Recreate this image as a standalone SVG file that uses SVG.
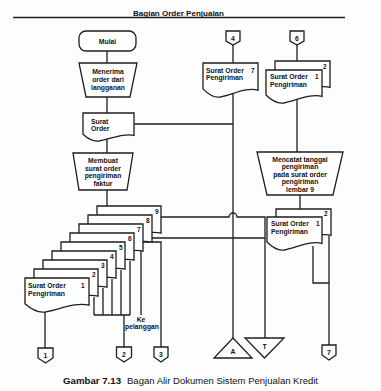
<svg xmlns="http://www.w3.org/2000/svg" xmlns:xlink="http://www.w3.org/1999/xlink" width="381" height="391" viewBox="0 0 381 391">
  <style>
    .ln { fill: none; stroke: #1e1e1e; stroke-width: 1.3; }
    .shp { fill: #fff; stroke: #1e1e1e; stroke-width: 1.3; }
    .t { font-family: "Liberation Sans", Arial, sans-serif; font-weight: bold; font-size: 6.8px; fill: #111; }
    .tc { text-anchor: middle; }
    .n { font-family: "Liberation Sans", Arial, sans-serif; font-weight: bold; font-size: 6.5px; fill: #111; }
    .cap { font-family: "Liberation Sans", Arial, sans-serif; fill: #111; }
  </style>
  <defs>
    <!-- unit document shape (100 x 100) with wavy bottom -->
    <path id="doc" d="M0,0 H100 V80 C80,70 55,92 32,100 C18,104 6,86 0,76 Z" fill="#fff" stroke="#1e1e1e" stroke-width="1.3" vector-effect="non-scaling-stroke"/>
  </defs>

  <rect width="381" height="391" fill="#fdfdfd"/>

  <!-- header -->
  <g id="header">
    <text x="178.5" y="15.5" class="t tc" font-size="8" textLength="91" lengthAdjust="spacingAndGlyphs">Bagian Order Penjualan</text>
    <line x1="13" y1="17.5" x2="345" y2="17.5" stroke="#1e1e1e" stroke-width="1.4"/>
  </g>

  <!-- connectors -->
  <g id="connectors" class="ln">
    <path d="M107,51 V63"/>
    <path d="M107,97 V113"/>
    <path d="M107,139 V153"/>
    <path d="M134,124 H233"/>
    <path d="M107,190 V206"/>
    <path d="M233,45 V63"/>
    <path d="M233,94 V338"/>
    <path d="M297,45 V61"/>
    <path d="M297,100 V152"/>
    <path d="M300,195 V209"/>
    <path d="M313,246 V283 H329"/>
    <path d="M329,236 V345"/>
    <!-- copies leaving the stack -->
    <path d="M45,312 V348"/>
    <path d="M94,297 V315"/>
    <path d="M103,288 V315"/>
    <path d="M112,279 V315"/>
    <path d="M121,270 V315"/>
    <path d="M130,261 V315"/>
    <path d="M94,315 H130"/>
    <path d="M124,315 V347"/>
    <path d="M141,251 V315"/>
    <path d="M143,242 H161 V347"/>
    <path d="M152,238 H265"/>
    <path d="M161,217 H229 A4,4 0 0 1 237,217 H265 V338"/>
  </g>

  <!-- start -->
  <g id="mulai">
    <rect x="79" y="31" width="57" height="20" rx="7" class="shp"/>
    <text x="107.5" y="44" class="t tc" font-size="7.5">Mulai</text>
  </g>

  <g id="menerima-order">
    <path d="M79,63 H137 L130,97 H86 Z" class="shp"/>
    <text class="t tc"><tspan x="108" y="74">Menerima</tspan><tspan x="108" y="82">order dari</tspan><tspan x="108" y="90">langganan</tspan></text>
  </g>

  <g id="surat-order">
    <use xlink:href="#doc" transform="translate(83,113) scale(0.51,0.28)"/>
    <text class="t" font-size="6.3"><tspan x="91" y="123.5">Surat</tspan><tspan x="91" y="131">Order</tspan></text>
  </g>

  <g id="membuat-sop">
    <path d="M73,153 H133 L127,190 H79 Z" class="shp"/>
    <text class="t tc"><tspan x="103" y="163">Membuat</tspan><tspan x="103" y="170.5">surat order</tspan><tspan x="103" y="178">pengiriman</tspan><tspan x="103" y="185.5">faktur</tspan></text>
  </g>

  <!-- nine copies of the shipping order, back to front -->
  <g id="sop-stack">
    <use xlink:href="#doc" transform="translate(97,206) scale(0.64,0.34)"/>
    <text x="155" y="213.5" class="n">9</text>
    <use xlink:href="#doc" transform="translate(88,215) scale(0.64,0.34)"/>
    <text x="146" y="222.5" class="n">8</text>
    <use xlink:href="#doc" transform="translate(79,224) scale(0.64,0.34)"/>
    <text x="137" y="231.5" class="n">7</text>
    <use xlink:href="#doc" transform="translate(70,233) scale(0.64,0.34)"/>
    <text x="128" y="240.5" class="n">6</text>
    <use xlink:href="#doc" transform="translate(61,242) scale(0.64,0.34)"/>
    <text x="119" y="249.5" class="n">5</text>
    <use xlink:href="#doc" transform="translate(52,251) scale(0.64,0.34)"/>
    <text x="110" y="258.5" class="n">4</text>
    <use xlink:href="#doc" transform="translate(43,260) scale(0.64,0.34)"/>
    <text x="101" y="267.5" class="n">3</text>
    <use xlink:href="#doc" transform="translate(34,269) scale(0.64,0.34)"/>
    <text x="92" y="276.5" class="n">2</text>
    <use xlink:href="#doc" transform="translate(25,278) scale(0.64,0.34)"/>
    <text class="t"><tspan x="28" y="287.5">Surat Order</tspan><tspan x="28" y="295.5">Pengiriman</tspan></text>
    <text x="81" y="287.5" class="n">1</text>
  </g>

  <g id="ke-pelanggan">
    <text class="t tc" font-size="6"><tspan x="141" y="322">Ke</tspan><tspan x="142" y="329">pelanggan</tspan></text>
  </g>

  <!-- off-page connectors -->
  <g id="off-1">
    <path d="M38,348 H53 V358 L45.5,363 L38,358 Z" class="shp"/>
    <text x="45.5" y="358" class="t tc">1</text>
  </g>
  <g id="off-2">
    <path d="M116.5,347 H131.5 V357 L124,362 L116.5,357 Z" class="shp"/>
    <text x="124" y="357" class="t tc">2</text>
  </g>
  <g id="off-3">
    <path d="M154,347 H168 V357 L161,362 L154,357 Z" class="shp"/>
    <text x="161" y="357" class="t tc">3</text>
  </g>
  <g id="off-4">
    <path d="M226,31 H240 V41 L233,45 L226,41 Z" class="shp"/>
    <text x="233" y="40.5" class="t tc">4</text>
  </g>
  <g id="off-6">
    <path d="M290,31 H304 V41 L297,45 L290,41 Z" class="shp"/>
    <text x="297" y="40.5" class="t tc">6</text>
  </g>
  <g id="off-7">
    <path d="M322,345 H336 V355 L329,360 L322,355 Z" class="shp"/>
    <text x="329" y="355" class="t tc">7</text>
  </g>

  <!-- returned copy 7 -->
  <g id="sop-7">
    <use xlink:href="#doc" transform="translate(203,63) scale(0.55,0.34)"/>
    <text class="t"><tspan x="206" y="72.5">Surat Order</tspan><tspan x="206" y="80">Pengiriman</tspan></text>
    <text x="251" y="72.5" class="n">7</text>
  </g>

  <!-- copies 1 and 2 received back -->
  <g id="sop-1-2-in">
    <use xlink:href="#doc" transform="translate(275,61) scale(0.55,0.33)"/>
    <text x="323" y="68.5" class="n">2</text>
    <use xlink:href="#doc" transform="translate(266,70) scale(0.56,0.33)"/>
    <text class="t"><tspan x="270" y="79">Surat Order</tspan><tspan x="270" y="86.5">Pengiriman</tspan></text>
    <text x="315" y="79" class="n">1</text>
  </g>

  <g id="mencatat-tanggal">
    <path d="M257,152 H343 L333,195 H267 Z" class="shp"/>
    <text class="t tc"><tspan x="300" y="161.5">Mencatat tanggal</tspan><tspan x="300" y="169">pengiriman</tspan><tspan x="300" y="176.5">pada surat order</tspan><tspan x="300" y="184">pengiriman</tspan><tspan x="300" y="191.5">lembar 9</tspan></text>
  </g>

  <g id="sop-1-2-out">
    <use xlink:href="#doc" transform="translate(276,209) scale(0.55,0.33)"/>
    <text x="324" y="216" class="n">2</text>
    <use xlink:href="#doc" transform="translate(267,217) scale(0.55,0.33)"/>
    <text class="t"><tspan x="271" y="226">Surat Order</tspan><tspan x="271" y="233.5">Pengiriman</tspan></text>
    <text x="316" y="226" class="n">1</text>
  </g>

  <!-- files -->
  <g id="arsip-a">
    <path d="M233,338 L252,358 H214 Z" class="shp"/>
    <text x="233" y="354" class="t tc">A</text>
  </g>
  <g id="arsip-t">
    <path d="M245,338 H284 L264.5,358 Z" class="shp"/>
    <text x="264.5" y="348.5" class="t tc">T</text>
  </g>

  <!-- caption -->
  <g id="caption">
    <text x="63" y="384" class="cap" font-weight="bold" font-size="9" textLength="58" lengthAdjust="spacingAndGlyphs">Gambar 7.13</text>
    <text x="127" y="384" class="cap" font-size="8.5" textLength="191" lengthAdjust="spacingAndGlyphs">Bagan Alir Dokumen Sistem Penjualan Kredit</text>
  </g>
</svg>
